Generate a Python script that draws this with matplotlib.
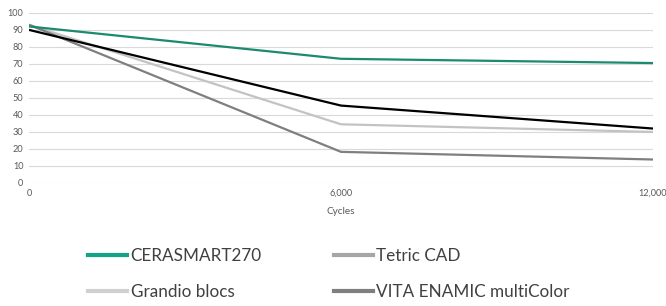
import matplotlib
matplotlib.use("Agg")
import matplotlib.pyplot as plt
from matplotlib.lines import Line2D

cycles = [0, 6000, 12000]
cerasmart = [92, 73, 70.5]
tetric = [90, 45.5, 32]
grandio = [93, 34.5, 30]
vita = [93, 18.3, 13.8]

series_names = ["CERASMART270", "Grandio blocs", "Tetric CAD", "VITA ENAMIC multiColor"]
x_ticks = [0, 6000, 12000]
x_tick_labels = ["0", "6,000", "12,000"]
y_ticks = list(range(0, 101, 10))

plt.rcParams["font.family"] = ["Lato", "DejaVu Sans"]

fig = plt.figure(figsize=(6.66, 3.06), dpi=100)
ax = fig.add_axes([0.0435, 0.402, 0.937, 0.556])

ax.plot(cycles, grandio, color="#c3c3c3", lw=1.6, solid_capstyle="butt")
ax.plot(cycles, vita, color="#7f7f7f", lw=1.6, solid_capstyle="butt")
ax.plot(cycles, cerasmart, color="#1b8a6d", lw=1.6, solid_capstyle="butt")
ax.plot(cycles, tetric, color="#000000", lw=1.6, solid_capstyle="butt")

ax.set_xlim(0, 12000)
ax.set_ylim(0, 100)
ax.set_yticks(y_ticks)
ax.set_xticks(x_ticks)
ax.set_xticklabels(x_tick_labels)
ax.yaxis.grid(True, color="#d9d9d9", lw=0.8)
ax.set_axisbelow(True)
for s in ax.spines.values():
    s.set_visible(False)
ax.tick_params(length=0, labelsize=6.6, labelcolor="#595959", pad=4)
ax.set_xlabel("Cycles", fontsize=7.2, color="#595959", labelpad=7)

# legend colours as shown in the original (Tetric CAD handle is grey there)
handles = [
    Line2D([], [], color="#13a386", lw=3),
    Line2D([], [], color="#d0d0d0", lw=3),
    Line2D([], [], color="#a6a6a6", lw=3),
    Line2D([], [], color="#7f7f7f", lw=3),
]
leg = fig.legend(handles, series_names, ncol=2, loc="upper left",
                 bbox_to_anchor=(0.109, 0.24), frameon=False,
                 fontsize=12.3, handlelength=2.3, handletextpad=0.2,
                 columnspacing=4.2, labelspacing=1.2)
for t in leg.get_texts():
    t.set_color("#404040")

fig.savefig("out.png", dpi=100)
